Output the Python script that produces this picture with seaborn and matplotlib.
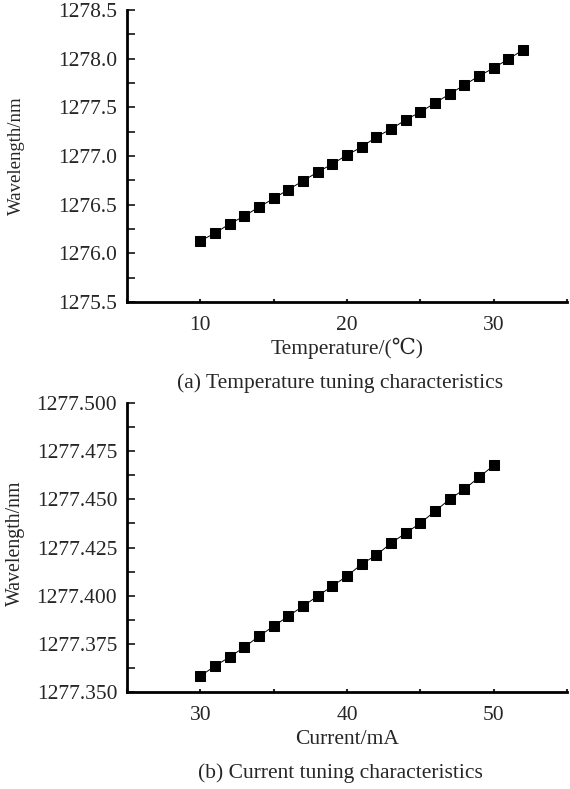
import numpy as np
import pandas as pd
import matplotlib.pyplot as plt
import seaborn as sns
from matplotlib.ticker import MultipleLocator, FormatStrFormatter

sns.set_style("ticks")
plt.rcParams['font.family'] = ['Liberation Serif', 'DejaVu Serif', 'Noto Sans CJK SC']

# Temperature tuning data
temperature = [10, 11, 12, 13, 14, 15, 16, 17, 18, 19, 20, 21,
               22, 23, 24, 25, 26, 27, 28, 29, 30, 31, 32]
wl_temp = [1276.127, 1276.209, 1276.302, 1276.384, 1276.476, 1276.564,
           1276.656, 1276.744, 1276.836, 1276.918, 1277.011, 1277.093,
           1277.196, 1277.278, 1277.371, 1277.453, 1277.545, 1277.638,
           1277.730, 1277.823, 1277.905, 1277.997, 1278.090]

# Current tuning data
current = [30, 31, 32, 33, 34, 35, 36, 37, 38, 39, 40,
           41, 42, 43, 44, 45, 46, 47, 48, 49, 50]
wl_curr = [1277.3583, 1277.3635, 1277.3682, 1277.3733, 1277.3790, 1277.3842,
           1277.3894, 1277.3946, 1277.3998, 1277.4050, 1277.4102, 1277.4164,
           1277.4211, 1277.4273, 1277.4325, 1277.4377, 1277.4439, 1277.4501,
           1277.4553, 1277.4615, 1277.4677]

df_t = pd.DataFrame({'x': temperature, 'y': wl_temp})
df_c = pd.DataFrame({'x': current, 'y': wl_curr})

fig = plt.figure(figsize=(5.7, 7.89), dpi=100)
ax1 = fig.add_axes([0.2228, 0.6172, 0.7722, 0.3701])
ax2 = fig.add_axes([0.2228, 0.1229, 0.7722, 0.3663])

fs = 15.5


def style_axis(ax):
    sns.despine(ax=ax)
    for s in ['left', 'bottom']:
        ax.spines[s].set_linewidth(2.0)
        ax.spines[s].set_color('black')
    ax.tick_params(axis='y', which='both', direction='in', length=6, width=1.3,
                   labelsize=fs, pad=7)
    ax.tick_params(axis='x', which='both', direction='in', length=2, width=1.5,
                   labelsize=fs, pad=10)
    ax.grid(False)


# (a) temperature
sns.lineplot(data=df_t, x='x', y='y', ax=ax1, color='black', linewidth=0.7,
             marker='s', markersize=7.5, markeredgecolor='black')
ax1.set_xlim(5, 35)
ax1.set_ylim(1275.5, 1278.5)
ax1.xaxis.set_major_locator(MultipleLocator(10))
ax1.xaxis.set_minor_locator(MultipleLocator(5))
ax1.yaxis.set_major_locator(MultipleLocator(0.5))
ax1.yaxis.set_minor_locator(MultipleLocator(0.25))
ax1.yaxis.set_major_formatter(FormatStrFormatter('%.1f'))
style_axis(ax1)
ax1.set_xlabel('Temperature/(℃)', fontsize=fs, labelpad=2)
ax1.set_ylabel('Wavelength/nm', fontsize=13.5)
ax1.yaxis.set_label_coords(-0.232, 0.5)

# (b) current
sns.lineplot(data=df_c, x='x', y='y', ax=ax2, color='black', linewidth=0.7,
             marker='s', markersize=7.5, markeredgecolor='black')
ax2.set_xlim(25, 55)
ax2.set_ylim(1277.35, 1277.5)
ax2.xaxis.set_major_locator(MultipleLocator(10))
ax2.xaxis.set_minor_locator(MultipleLocator(5))
ax2.yaxis.set_major_locator(MultipleLocator(0.025))
ax2.yaxis.set_minor_locator(MultipleLocator(0.0125))
ax2.yaxis.set_major_formatter(FormatStrFormatter('%.3f'))
style_axis(ax2)
ax2.set_xlabel('Current/mA', fontsize=fs, labelpad=4)
ax2.set_ylabel('Wavelength/nm', fontsize=14.3)
ax2.yaxis.set_label_coords(-0.232, 0.515)

# captions
fig.text(0.597, 1 - 383 / 789, '(a) Temperature tuning characteristics',
         ha='center', va='center', fontsize=fs)
fig.text(0.597, 1 - 773 / 789, '(b) Current tuning characteristics',
         ha='center', va='center', fontsize=fs)

fig.savefig('out.png', dpi=100)
